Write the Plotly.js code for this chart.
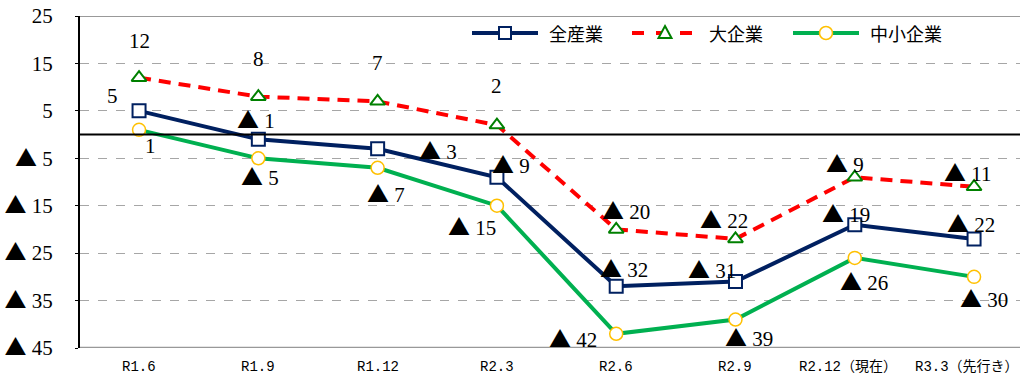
<!DOCTYPE html>
<html>
<head>
<meta charset="utf-8">
<script src="https://cdn.plot.ly/plotly-3.0.1.min.js"></script>
<style>
  html, body { margin: 0; padding: 0; background: #fff; }
  #chart { width: 1023px; height: 378px; }
</style>
</head>
<body>
<div id="chart"></div>
<script>
// Survey periods
const periods = ['R1.6', 'R1.9', 'R1.12', 'R2.3', 'R2.6', 'R2.9', 'R2.12（現在）', 'R3.3（先行き）'];

// Diffusion index by company size
const seriesNames   = ['全産業', '大企業', '中小企業'];
const allIndustries = [5, -1, -3, -9, -32, -31, -19, -22];
const largeFirms    = [12, 8, 7, 2, -20, -22, -9, -11];
const smeFirms      = [1, -5, -7, -15, -42, -39, -26, -30];

// Y-axis ticks
const yTicks = [25, 15, 5, -5, -15, -25, -35, -45];

const cjk = 'Noto Sans CJK JP, sans-serif';
const serif = 'Liberation Serif, DejaVu Serif, serif';
const mono = 'Liberation Mono, DejaVu Sans Mono, Noto Sans CJK JP, monospace';

// Negative values are written with a leading full-width triangle
const tri = '<span style="font-family:Noto Sans CJK JP;font-size:22px">▲</span>';
const fmt = v => (v < 0 ? tri + '\u00a0' + Math.abs(v) : String(v));

// Pixel offsets of each value label from its point
const allShift   = [[-27, 15], [-2, 21], [60, 0], [14, 14], [8, 19], [-23, 14], [-9, 13], [-3, 17]];
const largeShift = [[0, 37], [0, 38], [0, 38], [0, 39], [10, 20], [-11, 21], [-10, 15], [-6, 16]];
const smeShift   = [[11, -16], [2, -17], [8, -24], [-25, -19], [-43, -3], [14, -16], [9, -22], [10, -20]];

const labelFont = { family: serif, size: 21, color: '#000' };

const styles = [
  { line: { color: '#002060', width: 4 },
    marker: { symbol: 'square', size: 13, color: '#fff', line: { color: '#002060', width: 2 } } },
  { line: { color: '#ff0000', width: 4, dash: '12px,8px' },
    marker: { symbol: 'triangle-up', size: 13, color: '#fff', line: { color: '#008000', width: 2 } } },
  { line: { color: '#00b050', width: 4 },
    marker: { symbol: 'circle', size: 13, color: '#fff', line: { color: '#ffc000', width: 1.5 } } }
];

const seriesValues = [allIndustries, largeFirms, smeFirms];
const traces = seriesValues.map((vals, k) => ({
  x: periods, y: vals, name: seriesNames[k], type: 'scatter', mode: 'lines+markers',
  line: styles[k].line, marker: styles[k].marker, showlegend: false
}));

const annotations = [];
[[allIndustries, allShift], [largeFirms, largeShift], [smeFirms, smeShift]].forEach(([vals, shifts]) => {
  vals.forEach((v, i) => {
    annotations.push({
      x: periods[i], y: v, xref: 'x', yref: 'y', text: fmt(v), showarrow: false,
      xshift: shifts[i][0], yshift: shifts[i][1], font: labelFont
    });
  });
});

const shapes = [
  // zero line
  { type: 'line', xref: 'paper', x0: 0, x1: 1, yref: 'y', y0: 0, y1: 0, line: { color: '#000', width: 2 } },
  // top frame
  { type: 'line', xref: 'paper', x0: 0, x1: 1, yref: 'y', y0: 25, y1: 25, line: { color: '#999', width: 2 } },
  // bottom frame
  { type: 'line', xref: 'paper', x0: 0, x1: 1, yref: 'y', y0: -45, y1: -45, line: { color: '#999', width: 2.5 } }
];

const M = { l: 80, r: 3, t: 16, b: 30 };
const W = 1023, H = 378;
const pw = W - M.l - M.r, ph = H - M.t - M.b;
const px = X => (X - M.l) / pw;
const py = Y => (H - M.b - Y) / ph;

// Period labels under the axis; bracketed ones sit slightly left of their tick
periods.forEach(p => {
  annotations.push({ x: p, xref: 'x', yref: 'paper', y: py(367), yanchor: 'middle',
    xshift: p.endsWith('）') ? -7 : 0, showarrow: false, text: p,
    font: { family: mono, size: 14, color: '#000' } });
});

// Legend drawn by hand so that the sample lines are long
const legendY = 33;
const legendStart = [472, 632, 793];
const sampleLen = 66;
legendStart.forEach((x0, k) => {
  const st = styles[k];
  const mid = x0 + sampleLen / 2;
  shapes.push({ type: 'line', xref: 'paper', yref: 'paper',
    x0: px(x0), x1: px(x0 + sampleLen), y0: py(legendY), y1: py(legendY),
    line: { color: st.line.color, width: 4, dash: st.line.dash ? 'dash' : 'solid' } });
  const mk = { fillcolor: '#fff', line: { color: st.marker.line.color, width: st.marker.line.width } };
  if (st.marker.symbol === 'square') {
    shapes.push(Object.assign({ type: 'rect', xref: 'paper', yref: 'paper',
      x0: px(mid - 6), x1: px(mid + 6), y0: py(legendY - 6), y1: py(legendY + 6) }, mk));
  } else if (st.marker.symbol === 'circle') {
    shapes.push(Object.assign({ type: 'circle', xref: 'paper', yref: 'paper',
      x0: px(mid - 6.5), x1: px(mid + 6.5), y0: py(legendY - 6.5), y1: py(legendY + 6.5) }, mk));
  } else {
    const p = [[mid, legendY - 7], [mid + 6.5, legendY + 5], [mid - 6.5, legendY + 5]]
      .map(([a, b]) => px(a) + ',' + py(b));
    shapes.push(Object.assign({ type: 'path', xref: 'paper', yref: 'paper',
      path: 'M' + p[0] + ' L' + p[1] + ' L' + p[2] + ' Z' }, mk));
  }
  annotations.push({ xref: 'paper', yref: 'paper', x: px(x0 + sampleLen + 9), y: py(legendY),
    xanchor: 'left', yanchor: 'middle', showarrow: false, text: seriesNames[k],
    font: { family: cjk, size: 18, color: '#000' } });
});

const layout = {
  width: W, height: H,
  margin: M,
  paper_bgcolor: '#fff', plot_bgcolor: '#fff',
  showlegend: false,
  xaxis: {
    type: 'category', range: [-0.495, 7.385],
    showgrid: false, zeroline: false, showline: false, ticks: '', showticklabels: false
  },
  yaxis: {
    range: [-45, 25], tickvals: yTicks, ticktext: yTicks.map(fmt),
    showgrid: true, gridcolor: '#a6a6a6', griddash: 'dash', gridwidth: 1,
    zeroline: false, showline: true, linecolor: '#000', linewidth: 2,
    ticks: 'outside', ticklen: 3, tickcolor: '#000', ticklabelstandoff: 18,
    tickfont: { family: serif, size: 21, color: '#000' }
  },
  shapes: shapes,
  annotations: annotations
};

Plotly.newPlot('chart', traces, layout, { displayModeBar: false, staticPlot: true });
</script>
</body>
</html>
